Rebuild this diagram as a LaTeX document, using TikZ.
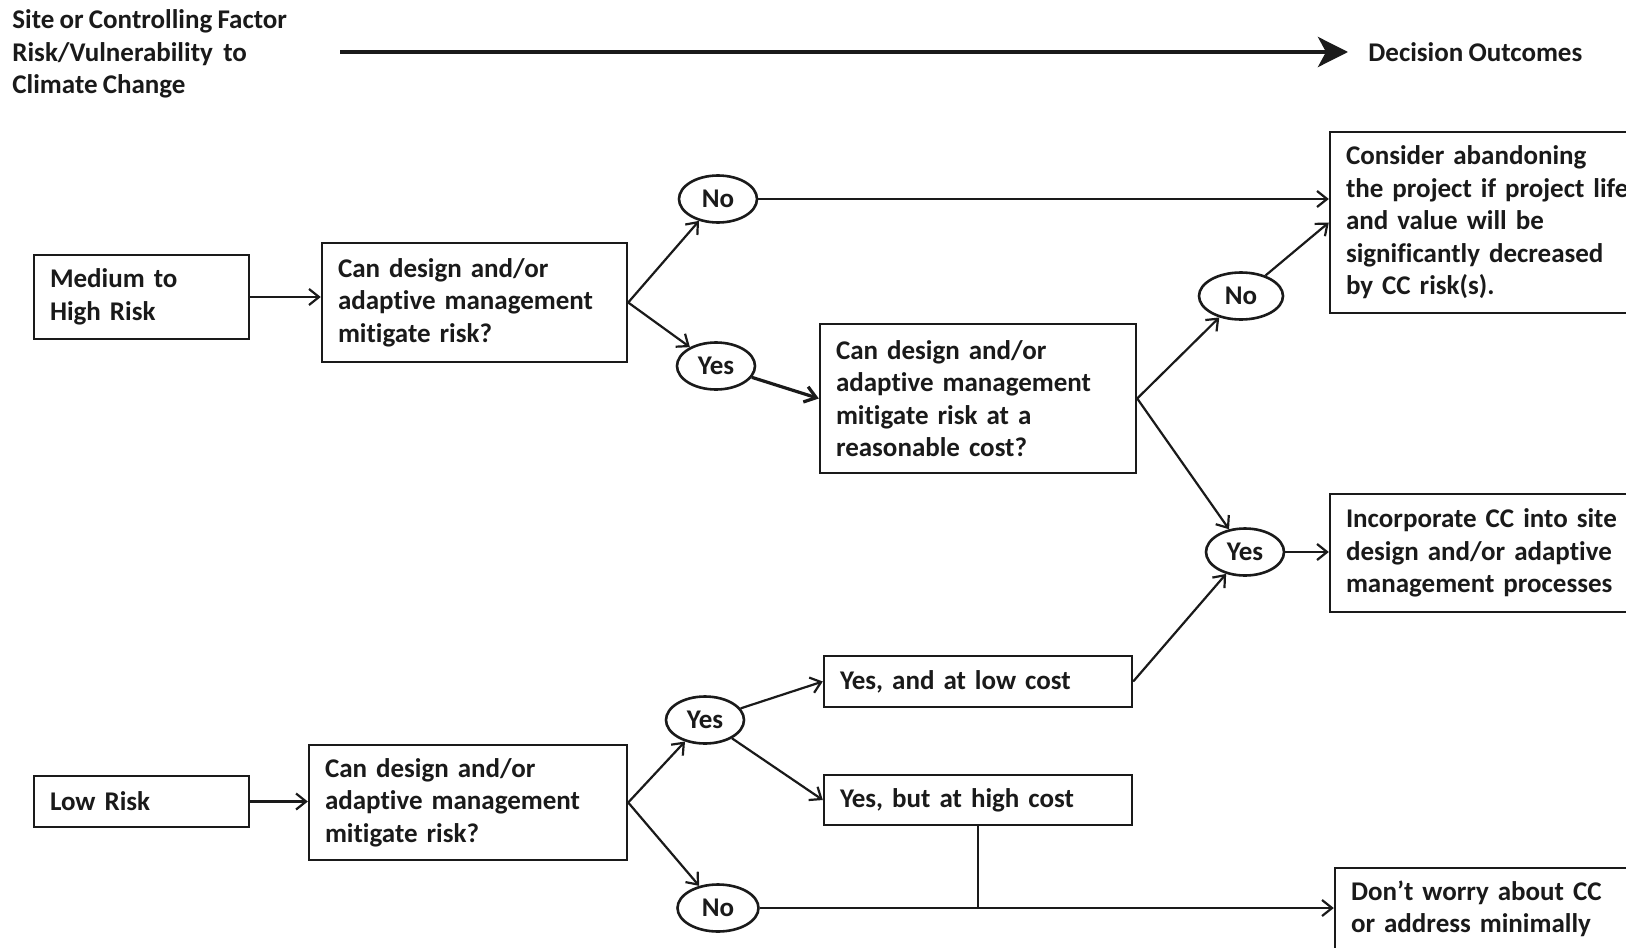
\documentclass[tikz,border=0pt]{standalone}
\usepackage{fontspec}
\setmainfont{Carlito}[Ligatures=NoCommon]
\usetikzlibrary{arrows.meta,shapes.geometric}
\definecolor{ink}{HTML}{1A1A1A}
% bold label font with slightly tighter word spacing
\newcommand{\lblfont}{\fontsize{13.5}{16.25}\selectfont\bfseries\spaceskip=2.6pt plus 1pt minus 0.5pt\relax}
\tikzset{
  lbl/.style={font=\lblfont, text=ink},
  box/.style={lbl, draw=ink, line width=1.2pt, rectangle, inner xsep=8pt, align=left},
  % width, height and text width of a box, in pt
  bx/.style n args={3}{minimum width=#1pt, minimum height=#2pt, text width=#3pt},
  oval/.style={lbl, draw=ink, line width=1.3pt, ellipse, inner sep=0pt,
               minimum width=39pt, minimum height=23.5pt},
  arr/.style={draw=ink, line width=1.1pt, -{Straight Barb[length=5pt,width=8pt,line width=1.1pt]}},
  arrheavy/.style={draw=ink, line width=1.6pt, -{Straight Barb[length=5.5pt,width=8pt,line width=1.6pt]}},
  plain/.style={draw=ink, line width=1.1pt},
}
\begin{document}
\begin{tikzpicture}[x=0.5pt,y=-0.5pt]
\useasboundingbox (0,0) rectangle (1626,947);
\clip (0,0) rectangle (1626,947);
\fill[white] (0,0) rectangle (1626,947);

% header
\node[lbl, anchor=west, align=left, inner sep=0pt] (head) at (12,54)
  {Site or Controlling Factor\\Risk/Vulnerability\ \ to\\Climate Change};
\node[lbl, anchor=west, inner sep=0pt] (outc) at (1368,52) {Decision Outcomes};
\coordinate (axs) at (340,52);
\draw[draw=ink, line width=2.1pt, -{Stealth[length=15pt,width=15pt,inset=4pt]}]
  (axs) -- ([xshift=-10pt]axs -| outc.west);

% upper branch
\node[box, bx={107.5}{42}{91.5}] (med) at (141.5,297) {Medium to\\High Risk};
\node[box, bx={152.5}{59.5}{136.5}] (q1) at (474.5,302.5)
  {Can design and/or\\adaptive management\\mitigate risk?};
\node[oval] (no1) at (718,199) {No};
\node[oval] (yes1) at (716,366) {Yes};
\node[box, bx={158}{74.5}{142}] (q2) at (978,398.5)
  {Can design and/or\\adaptive management\\mitigate risk at a\\reasonable cost?};
\node[oval, minimum width=42pt] (no2) at (1241,296) {No};
\node[oval] (yes2) at (1245,552) {Yes};
\node[box, bx={175}{90.5}{159}] (cons) at (1505,222.5)
  {Consider abandoning\\the project if project life\\and value will be\\significantly decreased\\by CC risk(s).};
\node[box, bx={175}{59}{159}] (inc) at (1505,553)
  {Incorporate CC into site\\design and/or adaptive\\management processes};

% lower branch
\node[box, bx={107.5}{25.5}{91.5}] (lowrisk) at (141.5,801.5) {Low Risk};
\node[box, bx={159}{57.5}{143}] (q3) at (468,802.5)
  {Can design and/or\\adaptive management\\mitigate risk?};
\node[oval] (yes3) at (705,720) {Yes};
\node[oval, minimum width=40.5pt] (no3) at (718,908) {No};
\node[box, bx={154}{25.5}{138}] (low) at (978,681.5) {Yes, and at low cost};
\node[box, bx={154}{25}{138}] (high) at (978,800) {Yes, but at high cost};
\node[box, bx={172.5}{41}{156.5}] (dont) at (1507.5,909)
  {Don’t worry about CC\\or address minimally};

% connectors, upper branch
\draw[arr] (med.east) -- (med.east -| q1.west);
\draw[arr] (q1.east) -- (no1);
\draw[arr] (q1.east) -- (yes1);
\draw[arr] (no1) -- (no1 -| cons.west);
\draw[arrheavy] (yes1) -- (q2.west);
\draw[arr] (q2.east) -- (no2);
\draw[arr] (q2.east) -- (yes2);
\draw[arr] (no2) -- (cons.west);
\draw[arr] (yes2) -- (yes2 -| inc.west);

% connectors, lower branch
\draw[arr] (lowrisk.east) -- (lowrisk.east -| q3.west);
\draw[arr] (q3.east) -- (yes3);
\draw[arr] (q3.east) -- (no3);
\draw[arr] (yes3) -- (low.west);
\draw[arr] (yes3) -- (high.west);
\draw[arr] (low.east) -- (yes2);
\draw[arr] (no3) -- (no3 -| dont.west);
\draw[plain] (high.south) -- (high.south |- no3);
\end{tikzpicture}
\end{document}
